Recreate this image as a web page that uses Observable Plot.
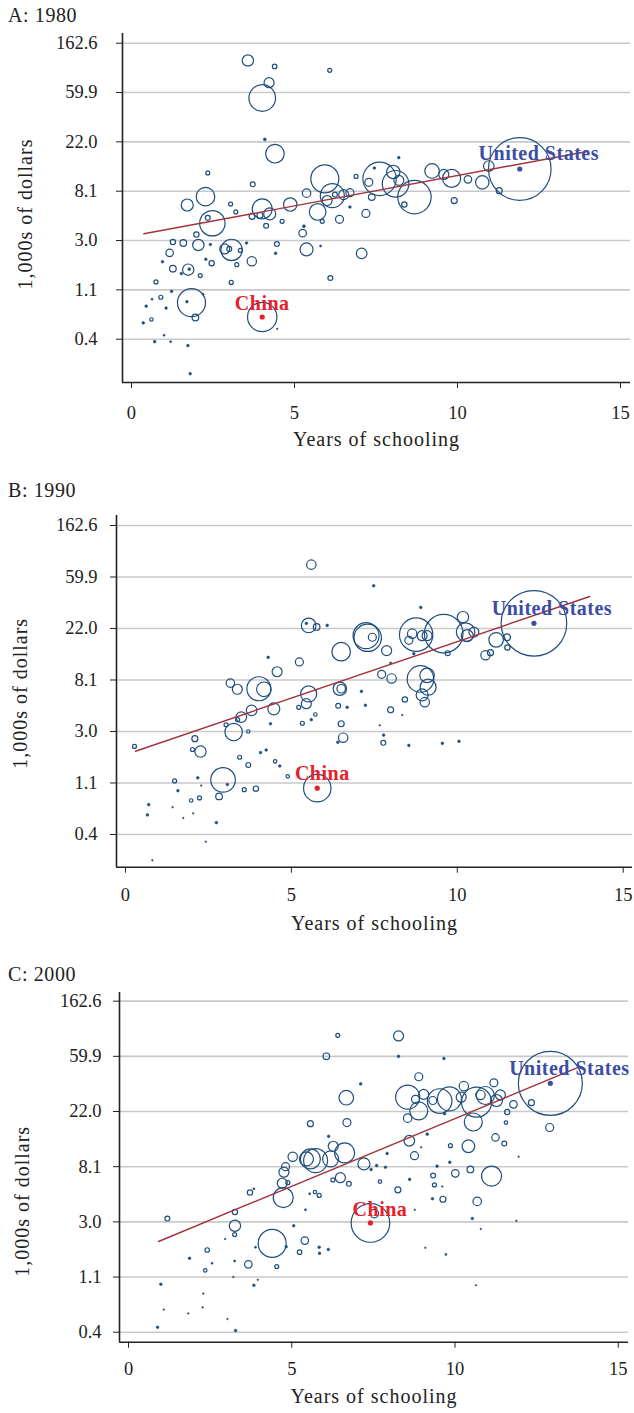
<!DOCTYPE html>
<html>
<head>
<meta charset="utf-8">
<script src="https://cdn.jsdelivr.net/npm/d3@7"></script>
<script src="https://cdn.jsdelivr.net/npm/@observablehq/plot@0.6"></script>
<style>
  body { margin: 0; background: #fff; }
  #wrap { position: relative; width: 634px; height: 1413px; font-family: "Liberation Serif", "DejaVu Serif", serif; color: #222; }
  .title { position: absolute; left: 8px; font-size: 20px; line-height: 1; letter-spacing: 0.6px; color: #222; white-space: nowrap; }
</style>
</head>
<body>
<div id="wrap"></div>
<script>
// ---------- axis / text data ----------
const yTickValues = [6, 7, 8, 9, 10, 11, 12];              // log of income in dollars
const yTickLabels = ["0.4", "1.1", "3.0", "8.1", "22.0", "59.9", "162.6"];
const xTickValues = [0, 5, 10, 15];
const panelTitles = ["A: 1980", "B: 1990", "C: 2000"];
const xAxisTitle = "Years of schooling";
const yAxisTitle = "1,000s of dollars";
const labelNames = ["United States", "China"];

// ---------- 1980 ----------
const schooling1980 = [
  3.57,4.39,4.22,4.01,4.09,4.40,2.34,3.72,2.27,1.71,
  3.04,3.20,2.48,2.34,4.01,3.70,3.94,4.24,4.13,4.62,
  4.87,5.37,5.71,5.93,1.99,5.29,5.25,6.08,8.20,6.16,
  6.00,6.24,6.51,6.70,5.85,6.38,6.70,6.89,7.45,7.61,
  7.28,8.03,8.10,8.20,8.68,8.37,7.37,7.19,9.22,9.58,
  9.82,10.32,10.76,10.96,9.90,11.28,11.91,1.27,1.59,2.05,
  2.42,2.86,3.07,3.00,3.34,3.53,3.69,3.23,2.46,2.28,
  1.17,0.95,1.27,1.74,1.77,1.53,2.11,3.06,0.75,1.84,
  1.70,1.96,2.20,1.23,0.90,0.63,0.45,1.06,0.61,0.36,
  4.01,4.47,0.71,1.00,1.20,1.73,1.80,4.46,4.42,5.37,
  5.80,7.06,6.10
];
const logIncome1980 = [
  11.65,11.53,11.20,10.89,10.05,9.76,9.37,9.14,8.89,8.72,
  8.74,8.58,8.35,8.46,8.64,8.49,8.51,8.54,8.30,8.39,
  8.73,8.96,8.58,9.25,8.12,8.29,8.15,11.45,9.68,8.91,
  8.81,8.93,8.93,8.97,8.39,8.43,8.68,9.30,9.47,9.25,
  9.18,9.39,9.15,9.22,8.88,8.73,8.88,8.55,9.41,9.34,
  9.26,9.24,9.18,9.51,8.81,9.01,9.45,7.97,7.95,7.91,
  7.92,7.83,7.81,7.83,7.80,7.95,7.58,7.51,7.54,7.62,
  7.75,7.57,7.43,7.41,7.42,7.33,7.29,7.15,7.16,6.74,
  6.76,6.44,6.91,6.97,6.85,6.81,6.67,6.63,6.40,6.33,
  6.45,6.21,5.95,6.08,5.95,5.87,5.30,7.93,7.74,7.82,
  7.89,7.74,7.24
];
const weight1980 = [
  32,5,25,177,2,86,4,6,86,36,
  4,4,161,6,100,9,9,36,6,4,
  45,18,69,196,7,2,14,4,1.7,144,
  25,6,25,16,4,16,1.7,4,1.7,279,
  16,45,177,25,279,7,11,16,53,25,
  81,14,45,28,9,9,980,7,11,32,
  1.7,25,114,6,4,1.7,22,4,7,1.7,
  14,1.7,11,32,1.7,1.7,4,4,4,196,
  1.7,11,1,1.7,4,1,1.7,1.7,3,1.7,
  216,0.6,1.7,1,1,1.7,1.7,6,1.7,42,
  1,28,6
];
const fitSchool1980 = [0.38, 13.98];
const fitIncome1980 = [8.137, 9.805];
const labelSchool1980 = [11.91, 4.01];
const labelIncome1980 = [9.45, 6.45];

// ---------- 1990 ----------
const schooling1990 = [
  5.60,5.52,5.45,5.76,4.30,5.24,4.57,3.16,3.37,4.02,
  4.17,5.52,5.45,3.80,4.47,7.48,8.90,6.08,7.25,7.30,
  7.44,6.50,7.87,8.76,8.64,8.94,9.09,8.54,8.69,9.59,
  9.71,10.17,10.25,10.30,10.50,11.17,11.50,11.51,10.85,11.00,
  12.31,7.72,8.02,7.99,8.89,9.09,9.12,8.94,9.02,8.42,
  7.99,7.11,7.23,6.68,6.41,6.46,6.50,0.27,2.09,2.02,
  2.26,3.03,3.26,3.49,3.38,3.70,4.37,5.22,5.33,5.60,
  5.72,3.44,3.70,4.07,4.24,4.51,4.65,4.89,2.94,3.07,
  2.82,3.58,3.93,2.18,2.28,1.48,1.58,1.98,2.23,0.70,
  0.66,1.42,1.74,2.04,2.74,2.42,0.81,5.78,6.50,6.56,
  6.40,7.66,7.78,7.77,8.54,9.55,10.05,8.34
];
const logIncome1990 = [
  11.24,10.06,10.10,10.03,9.44,9.35,9.16,8.94,8.82,8.83,
  8.82,8.73,8.54,8.41,8.44,10.83,10.41,10.06,9.86,9.82,
  9.83,9.55,9.57,9.88,9.90,9.86,9.86,9.77,9.51,9.90,
  9.52,10.22,9.93,9.86,9.93,9.78,9.83,9.63,9.48,9.53,
  10.10,9.11,9.03,9.33,9.02,9.09,8.86,8.71,8.57,8.62,
  8.42,8.78,8.51,8.47,8.50,8.83,8.83,7.71,7.86,7.65,
  7.61,8.13,7.99,8.28,8.23,8.00,8.15,8.47,8.16,8.23,
  8.33,7.50,7.35,7.59,7.64,7.42,7.33,7.13,7.06,6.97,
  6.74,6.87,6.89,7.10,6.95,7.04,6.85,6.66,6.71,6.58,
  6.38,6.53,6.32,6.41,6.23,5.86,5.50,6.90,8.15,7.88,
  7.79,8.12,7.93,7.78,7.73,7.77,7.81,8.32
];
const weight1990 = [
  22,53,1.7,11,1.7,16,25,18,25,144,
  53,64,25,28,36,1.7,1.7,1.7,169,188,
  16,86,25,279,22,25,25,16,1.7,372,
  6,32,86,36,25,53,11,7,22,9,
  1076,16,22,1,177,53,64,36,22,7,
  9,1.7,1.7,1.7,6,45,18,4,9,4,
  32,4,76,28,4,3,1.7,4,4,1.7,
  3,4,6,1.7,1.7,3,1.7,3,151,1.7,
  11,4,7,1.7,0.6,4,1.7,3,4,1.7,
  1.7,0.6,0.6,0.6,1.7,0.6,0.6,188,9,22,
  1.7,0.6,1.7,6,1.7,1.7,1.7,0.6
];
const fitSchool1990 = [0.30, 13.99];
const fitIncome1990 = [7.617, 10.621];
const labelSchool1990 = [12.31, 5.78];
const labelIncome1990 = [10.10, 6.90];

// ---------- 2000 ----------
const schooling2000 = [
  5.57,5.03,5.57,5.45,4.81,4.76,4.71,6.41,8.27,6.06,
  8.27,9.66,8.89,7.11,6.67,8.55,8.79,9.04,8.89,8.55,
  9.32,9.53,9.83,10.27,10.19,10.66,10.78,10.93,11.19,11.39,
  11.27,10.56,9.68,11.79,12.34,11.60,11.56,12.90,12.92,6.69,
  6.13,6.27,6.62,6.19,5.73,7.21,7.43,7.60,7.87,7.92,
  8.60,9.15,8.76,9.45,9.86,9.84,10.41,11.24,11.51,11.95,
  10.01,10.47,11.12,9.33,9.37,8.61,7.70,8.25,6.49,6.26,
  6.75,1.19,3.26,3.26,3.25,3.72,3.84,4.74,4.88,5.55,
  5.71,5.84,5.42,5.06,4.40,4.83,3.89,5.40,5.24,5.84,
  5.85,6.12,3.67,4.54,2.96,2.41,1.87,2.56,3.25,2.35,
  3.21,3.84,3.96,0.99,2.29,2.27,1.08,1.83,3.03,0.89,
  3.28,7.41,7.53,9.63,9.31,10.68,8.77,10.53,10.79,11.88,
  9.09,9.72,10.64,8.96,9.61
];
const logIncome2000 = [
  9.78,9.18,9.14,9.14,9.00,8.90,8.70,11.38,11.37,11.00,
  11.00,10.96,10.63,10.50,10.25,10.26,10.22,10.31,10.01,9.88,
  10.20,10.19,10.23,10.46,10.26,10.17,10.30,10.29,10.52,10.30,
  10.20,9.81,9.96,10.13,10.16,9.99,9.80,9.71,10.51,9.80,
  9.55,9.37,9.25,9.14,9.11,9.05,8.95,9.02,8.99,9.24,
  9.47,9.59,9.20,9.01,9.38,9.08,9.37,9.53,9.42,9.18,
  8.88,8.95,8.83,8.84,8.67,8.77,8.73,8.58,8.80,8.76,
  8.69,8.06,8.18,7.93,7.77,8.53,8.60,8.44,8.71,8.51,
  8.54,8.48,8.22,7.93,7.61,7.55,7.54,7.66,7.45,7.54,
  7.43,7.50,7.23,7.19,7.69,7.49,7.34,7.25,7.29,7.12,
  7.00,6.85,6.95,6.87,6.70,6.45,6.41,6.34,6.24,6.09,
  6.03,7.98,8.15,8.41,8.42,8.37,8.22,8.06,7.87,8.02,
  7.53,7.41,6.85,9.35,8.64
];
const weight2000 = [
  9,22,100,49,16,25,25,4,25,11,
  1.7,1.7,16,1.7,53,144,16,25,81,18,
  16,151,144,22,25,225,22,81,16,25,
  36,81,1.7,14,9,7,3,16,1024,16,
  1.7,25,100,64,144,36,1.7,1.7,1.7,1.7,
  28,1.7,16,1.7,4,1.7,40,14,6,0.6,
  14,11,100,6,4,1.7,3,9,25,4,
  6,6,7,32,4,7,1,100,4,1,
  3,4,1,1.7,196,1.7,1,14,5,1.7,
  1.7,1.7,14,4,0.6,5,1.7,1,1,3,
  0.6,1.7,0.6,1.7,0.6,0.6,0.6,0.6,0.6,1.7,
  1.7,372,18,9,1.7,18,0.6,1.7,0.6,0.6,
  0.6,1,0.6,0.6,0.6
];
const fitSchool2000 = [0.92, 13.79];
const fitIncome2000 = [7.644, 10.803];
const labelSchool2000 = [12.92, 7.41];
const labelIncome2000 = [10.51, 7.98];

// ---------- styling / layout (not data) ----------
const SERIF = '"Liberation Serif", "DejaVu Serif", serif';
const CIRCLE = "#1f4e7d";
const FIT = "#a3333a";
const US_COLOR = "#3b4ea3";
const CN_COLOR = "#e8202a";
const GRID = "#c9c9c9";
const AXIS = "#222";

const panels = [
  {title: panelTitles[0], titleTop: 5, school: schooling1980, income: logIncome1980, weight: weight1980,
   fitX: fitSchool1980, fitY: fitIncome1980, labX: labelSchool1980, labY: labelIncome1980,
   top: 25, height: 425, mt: 8, mb: 68, ml: 122, mr: 4,
   xDom: [-0.276, 15.307], yDom: [5.122, 12.197], padX: 17, padY: 19,
   xlabDy: 57.5, ylabDx: -97, ylabDy: 6, usOff: [19, -15], cnOff: [0, -13]},
  {title: panelTitles[1], titleTop: 480, school: schooling1990, income: logIncome1990, weight: weight1990,
   fitX: fitSchool1990, fitY: fitIncome1990, labX: labelSchool1990, labY: labelIncome1990,
   top: 505, height: 435, mt: 10, mb: 73.3, ml: 116, mr: 2,
   xDom: [-0.271, 15.28], yDom: [5.365, 12.194], padX: 15, padY: 13,
   xlabDy: 56.3, ylabDx: -95.5, ylabDy: 2, usOff: [18, -15], cnOff: [5, -15]},
  {title: panelTitles[2], titleTop: 964, school: schooling2000, income: logIncome2000, weight: weight2000,
   fitX: fitSchool2000, fitY: fitIncome2000, labX: labelSchool2000, labY: labelIncome2000,
   top: 985, height: 428, mt: 7, mb: 71.3, ml: 119, mr: 6,
   xDom: [-0.276, 15.314], yDom: [5.819, 12.157], padX: 13.3, padY: 12,
   xlabDy: 54.6, ylabDx: -97, ylabDy: 34, usOff: [19, -15], cnOff: [9.5, -13]}
];

const wrap = document.getElementById("wrap");

for (const p of panels) {
  const t = document.createElement("div");
  t.className = "title";
  t.style.top = p.titleTop + "px";
  t.textContent = p.title;
  wrap.appendChild(t);

  const rows = p.school.map((s, i) => ({school: s, income: p.income[i], weight: p.weight[i]}));
  const bigRows = rows.filter(d => d.weight > 2);
  const tinyRows = rows.filter(d => d.weight <= 2);
  const fit = p.fitX.map((s, i) => ({school: s, income: p.fitY[i]}));
  const us = [{school: p.labX[0], income: p.labY[0], name: labelNames[0]}];
  const cn = [{school: p.labX[1], income: p.labY[1], name: labelNames[1]}];

  const chart = Plot.plot({
    width: 634,
    height: p.height,
    marginTop: p.mt, marginBottom: p.mb, marginLeft: p.ml, marginRight: p.mr,
    style: {fontFamily: SERIF, fontSize: "18.5px", color: AXIS, background: "transparent", overflow: "visible"},
    x: {domain: p.xDom, ticks: xTickValues, tickSize: 6, tickPadding: p.padX, label: null},
    y: {domain: p.yDom, ticks: yTickValues, tickFormat: d => yTickLabels[yTickValues.indexOf(d)],
        tickSize: 6, tickPadding: p.padY, label: null},
    r: {type: "sqrt", domain: [0, 1000], range: [0, Math.sqrt(1000)]},
    marks: [
      Plot.ruleY(yTickValues, {stroke: GRID, strokeWidth: 1.6}),
      Plot.dot(bigRows, {x: "school", y: "income", r: "weight", stroke: CIRCLE, strokeWidth: 1.2, fill: "none"}),
      Plot.dot(tinyRows, {x: "school", y: "income", r: "weight", stroke: CIRCLE, strokeWidth: 0.7, fill: CIRCLE}),
      Plot.line(fit, {x: "school", y: "income", stroke: FIT, strokeWidth: 1.4}),
      Plot.ruleX([p.xDom[0]], {stroke: AXIS, strokeWidth: 1.6}),
      Plot.ruleY([p.yDom[0]], {stroke: AXIS, strokeWidth: 1.6}),
      Plot.dot(us, {x: "school", y: "income", r: 2.6, fill: US_COLOR}),
      Plot.dot(cn, {x: "school", y: "income", r: 2.6, fill: CN_COLOR}),
      Plot.text(us, {x: "school", y: "income", text: "name", dx: p.usOff[0], dy: p.usOff[1],
        fill: US_COLOR, fontWeight: "bold", fontSize: 20, textAnchor: "middle", lineAnchor: "middle"}),
      Plot.text(cn, {x: "school", y: "income", text: "name", dx: p.cnOff[0], dy: p.cnOff[1],
        fill: CN_COLOR, fontWeight: "bold", fontSize: 20, textAnchor: "middle", lineAnchor: "middle"}),
      Plot.text([xAxisTitle], {frameAnchor: "bottom", dy: p.xlabDy, fontSize: 20, fill: AXIS,
        textAnchor: "middle", lineAnchor: "middle"}),
      Plot.text([yAxisTitle], {frameAnchor: "left", rotate: -90, dx: p.ylabDx, dy: p.ylabDy, fontSize: 20, fill: AXIS,
        textAnchor: "middle", lineAnchor: "middle"})
    ]
  });
  // letter spacing to approximate the wider Baskerville face of the original
  d3.select(chart).selectAll("text").each(function () {
    const s = this.textContent;
    if (s === xAxisTitle || s === yAxisTitle) this.setAttribute("letter-spacing", "1px");
    else if (labelNames.includes(s)) this.setAttribute("letter-spacing", "0.5px");
  });
  chart.style.position = "absolute";
  chart.style.top = p.top + "px";
  chart.style.left = "0px";
  wrap.appendChild(chart);
}
</script>
</body>
</html>
